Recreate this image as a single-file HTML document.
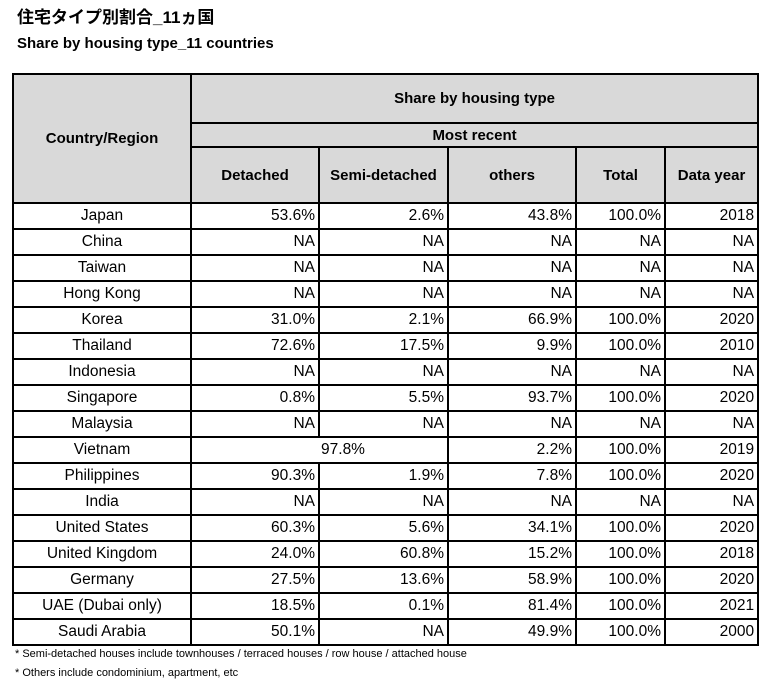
<!DOCTYPE html>
<html><head><meta charset="utf-8"><style>
body{margin:0;background:#fff;width:775px;height:685px;position:relative;overflow:hidden;font-family:"Liberation Sans","Noto Sans CJK JP",sans-serif;color:#000}
.t1{position:absolute;left:17px;top:3px;font-size:17px;font-weight:bold}
.t2{position:absolute;left:17px;top:35px;font-size:15px;font-weight:bold}
table{position:absolute;left:12px;top:73px;border-collapse:collapse;table-layout:fixed;width:745px}
td{border:2px solid #000;padding:0 3px;font-size:15.5px;height:24px;line-height:24px;white-space:nowrap;overflow:hidden}
th{border:2px solid #000;background:#d9d9d9;font-size:15px;font-weight:bold;padding:0}
td:first-child{text-align:center}
td.r{text-align:right}
.f{position:absolute;left:15px;font-size:11px}
</style></head><body>
<div class="t1">住宅タイプ別割合_11ヵ国</div>
<div class="t2">Share by housing type_11 countries</div>
<table>
<colgroup><col style="width:178px"><col style="width:128px"><col style="width:129px"><col style="width:128px"><col style="width:89px"><col style="width:93px"></colgroup>
<tr><th rowspan="3">Country/Region</th><th colspan="5" style="height:47px">Share by housing type</th></tr>
<tr><th colspan="5" style="height:22px">Most recent</th></tr>
<tr><th style="height:54px">Detached</th><th>Semi-detached</th><th>others</th><th>Total</th><th>Data year</th></tr>
<tr><td>Japan</td><td class="r">53.6%</td><td class="r">2.6%</td><td class="r">43.8%</td><td class="r">100.0%</td><td class="r">2018</td></tr>
<tr><td>China</td><td class="r">NA</td><td class="r">NA</td><td class="r">NA</td><td class="r">NA</td><td class="r">NA</td></tr>
<tr><td>Taiwan</td><td class="r">NA</td><td class="r">NA</td><td class="r">NA</td><td class="r">NA</td><td class="r">NA</td></tr>
<tr><td>Hong Kong</td><td class="r">NA</td><td class="r">NA</td><td class="r">NA</td><td class="r">NA</td><td class="r">NA</td></tr>
<tr><td>Korea</td><td class="r">31.0%</td><td class="r">2.1%</td><td class="r">66.9%</td><td class="r">100.0%</td><td class="r">2020</td></tr>
<tr><td>Thailand</td><td class="r">72.6%</td><td class="r">17.5%</td><td class="r">9.9%</td><td class="r">100.0%</td><td class="r">2010</td></tr>
<tr><td>Indonesia</td><td class="r">NA</td><td class="r">NA</td><td class="r">NA</td><td class="r">NA</td><td class="r">NA</td></tr>
<tr><td>Singapore</td><td class="r">0.8%</td><td class="r">5.5%</td><td class="r">93.7%</td><td class="r">100.0%</td><td class="r">2020</td></tr>
<tr><td>Malaysia</td><td class="r">NA</td><td class="r">NA</td><td class="r">NA</td><td class="r">NA</td><td class="r">NA</td></tr>
<tr><td>Vietnam</td><td colspan="2" style="text-align:center;padding-left:50px">97.8%</td><td class="r">2.2%</td><td class="r">100.0%</td><td class="r">2019</td></tr>
<tr><td>Philippines</td><td class="r">90.3%</td><td class="r">1.9%</td><td class="r">7.8%</td><td class="r">100.0%</td><td class="r">2020</td></tr>
<tr><td>India</td><td class="r">NA</td><td class="r">NA</td><td class="r">NA</td><td class="r">NA</td><td class="r">NA</td></tr>
<tr><td>United States</td><td class="r">60.3%</td><td class="r">5.6%</td><td class="r">34.1%</td><td class="r">100.0%</td><td class="r">2020</td></tr>
<tr><td>United Kingdom</td><td class="r">24.0%</td><td class="r">60.8%</td><td class="r">15.2%</td><td class="r">100.0%</td><td class="r">2018</td></tr>
<tr><td>Germany</td><td class="r">27.5%</td><td class="r">13.6%</td><td class="r">58.9%</td><td class="r">100.0%</td><td class="r">2020</td></tr>
<tr><td>UAE (Dubai only)</td><td class="r">18.5%</td><td class="r">0.1%</td><td class="r">81.4%</td><td class="r">100.0%</td><td class="r">2021</td></tr>
<tr><td>Saudi Arabia</td><td class="r">50.1%</td><td class="r">NA</td><td class="r">49.9%</td><td class="r">100.0%</td><td class="r">2000</td></tr>
</table>
<div class="f" style="top:648px">* Semi-detached houses include townhouses / terraced houses / row house / attached house</div>
<div class="f" style="top:667px">* Others include condominium, apartment, etc</div>
</body></html>
